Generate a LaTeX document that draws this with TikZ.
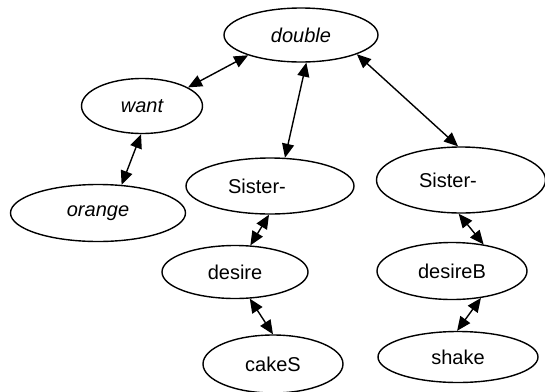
\documentclass[tikz,border=0pt]{standalone}
\usepackage{fontspec}
\setmainfont{Liberation Sans}
\usetikzlibrary{shapes.geometric,arrows.meta}
\tikzset{
  ell/.style={draw=black, ellipse, line width=1.4pt, inner sep=0pt, font=\fontsize{20}{24}\selectfont},
  conn/.style={line width=1.4pt, {Triangle[length=14pt,width=12pt]}-{Triangle[length=14pt,width=12pt]}}
}
\begin{document}
\begin{tikzpicture}[x=1pt,y=-1pt]
\useasboundingbox (0,0) rectangle (545,391);
\node[ell, minimum width=154pt, minimum height=54pt] (double) at (301,35) {\itshape double};
\node[ell, minimum width=121pt, minimum height=55pt] (want) at (142,106) {\itshape want};
\node[ell, minimum width=175pt, minimum height=57pt] (orange) at (98,213) {\itshape orange};
\node[ell, minimum width=168pt, minimum height=56pt] (sisL) at (270,186) {Sister-\kern26pt};
\node[ell, minimum width=169pt, minimum height=66pt] (sisR) at (461,180) {Sister-\kern26pt};
\node[ell, minimum width=146pt, minimum height=53pt] (desire) at (235,272) {desire};
\node[ell, minimum width=150pt, minimum height=57pt] (desireB) at (452,271) {desireB};
\node[ell, minimum width=140pt, minimum height=58pt] (cakes) at (273,364) {cakeS};
\node[ell, minimum width=160pt, minimum height=51pt] (shake) at (458,357) {shake};

\draw[conn] (want.22.4) -- (double.201);
\draw[conn] (double.-79.5) -- (sisL.62.7);
\draw[conn] (double.-19.3) -- (sisR.95.4);
\draw[conn] (want.-92) -- (orange.50.4);
\draw[conn] (sisL.-92) -- (desire.60);
\draw[conn] (desire.-61.8) -- (cakes.90);
\draw[conn] (sisR.-94.6) -- (desireB.40);
\draw[conn] (desireB.-43) -- (shake.92);
\end{tikzpicture}
\end{document}
